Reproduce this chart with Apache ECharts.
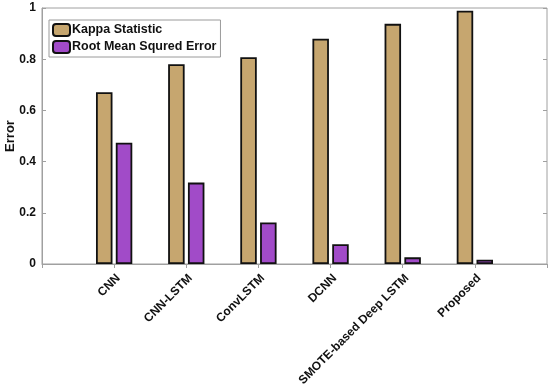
<!DOCTYPE html>
<html>
<head>
<meta charset="utf-8">
<script src="https://cdn.jsdelivr.net/npm/echarts@6/dist/echarts.min.js"></script>
<style>html,body{margin:0;padding:0;background:#fff}#c{width:550px;height:388px}</style>
</head>
<body>
<div id="c"></div>
<script>
const categories = ['', 'CNN', 'CNN-LSTM', 'ConvLSTM', 'DCNN', 'SMOTE-based Deep LSTM', 'Proposed', ''];
const kappa = [null, 0.671, 0.78, 0.808, 0.88, 0.938, 0.989, null];
const rmse = [null, 0.474, 0.318, 0.162, 0.077, 0.026, 0.017, null];
const yTicks = [0, 0.2, 0.4, 0.6, 0.8, 1];

const chart = echarts.init(document.getElementById('c'));
const font = 'Liberation Sans, Arial, sans-serif';
const axisGray = '#a0a0a0';
chart.setOption({
  animation: false,
  backgroundColor: '#fff',
  grid: { left: 42, right: 3, top: 8, bottom: 124, show: true, borderColor: axisGray, borderWidth: 1,
    containLabel: false, outerBoundsMode: 'none' },
  legend: {
    orient: 'vertical', left: 49, top: 20,
    itemWidth: 17, itemHeight: 12, itemGap: 3,
    padding: [3, 4, 3, 3],
    backgroundColor: '#fff', borderColor: '#9a9a9a', borderWidth: 1, borderRadius: 0,
    textStyle: { fontFamily: font, fontWeight: 'bold', fontSize: 12.5, color: '#111', padding: [0, 0, 0, -3] },
    data: ['Kappa Statistic', 'Root Mean Squred Error']
  },
  xAxis: [{
    type: 'category', data: categories, boundaryGap: false,
    axisLine: { lineStyle: { color: axisGray } },
    axisTick: { show: false },
    axisLabel: { rotate: 45, fontFamily: font, fontWeight: 'bold', fontSize: 12, color: '#111', margin: 8, interval: 0,
      verticalAlign: 'top' }
  }, {
    type: 'category', data: categories, boundaryGap: false, position: 'top',
    axisLine: { show: false },
    axisTick: { show: true, inside: true, length: 4, lineStyle: { color: axisGray }, interval: 0 },
    axisLabel: { show: false }
  }],
  yAxis: [{
    type: 'value', min: 0, max: 1, interval: 0.2,
    name: 'Error', nameLocation: 'middle', nameGap: 25, nameMoveOverlap: false,
    nameTextStyle: { fontFamily: font, fontWeight: 'bold', fontSize: 13, color: '#111' },
    axisLine: { show: true, lineStyle: { color: axisGray } },
    axisTick: { show: true, inside: true, length: 4, lineStyle: { color: axisGray } },
    splitLine: { show: false },
    axisLabel: { fontFamily: font, fontWeight: 'bold', fontSize: 12, color: '#111', margin: 6,
      formatter: v => { const t = yTicks.find(x => Math.abs(x - v) < 1e-9); return t === undefined ? '' : String(t); } }
  }, {
    type: 'value', min: 0, max: 1, interval: 0.2, position: 'right',
    axisLine: { show: false },
    axisTick: { show: true, inside: true, length: 4, lineStyle: { color: axisGray } },
    splitLine: { show: false },
    axisLabel: { show: false }
  }],
  series: [{
    name: 'Kappa Statistic', type: 'bar', data: kappa, barWidth: 16.5, barGap: '20%',
    itemStyle: { color: '#C6A66F', borderColor: '#111', borderWidth: 1.8 }
  }, {
    name: 'Root Mean Squred Error', type: 'bar', data: rmse, barWidth: 16.5, barGap: '20%',
    itemStyle: { color: '#A14BC8', borderColor: '#111', borderWidth: 1.8 }
  }]
});
</script>
</body>
</html>
